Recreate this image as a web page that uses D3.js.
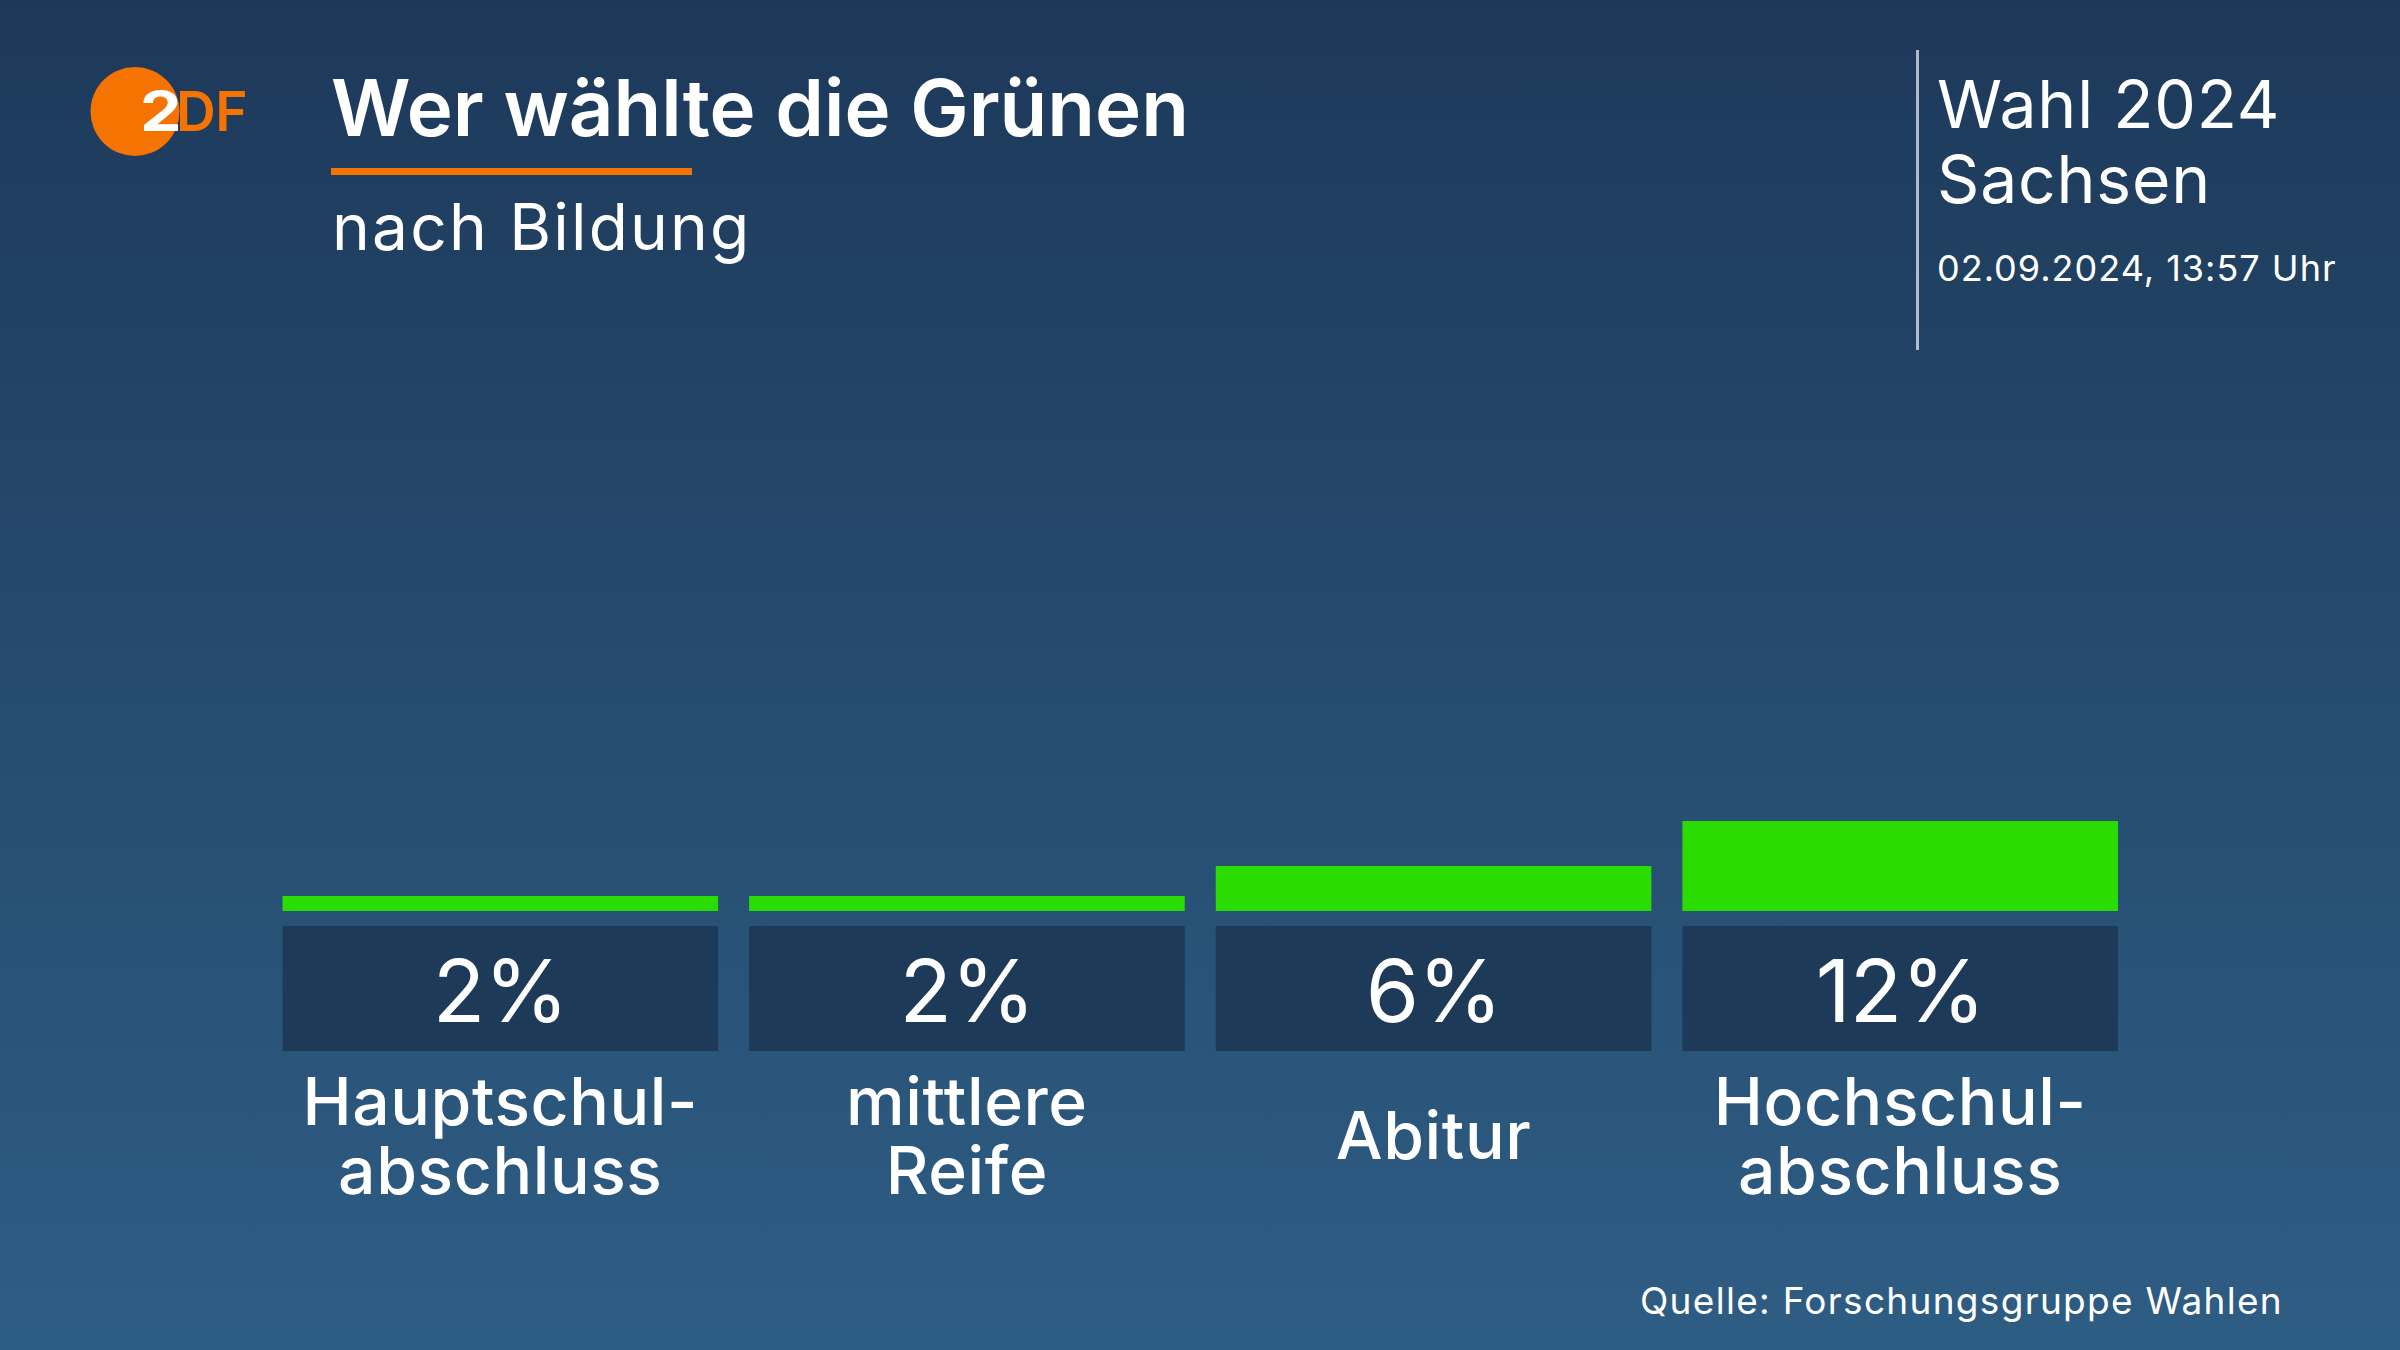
<!DOCTYPE html>
<html>
<head>
<meta charset="utf-8">
<script src="https://cdn.jsdelivr.net/npm/d3@7"></script>
<style>
	html, body { margin: 0; padding: 0; background: #1e3a5a; }
	svg { display: block; }
	text { font-family: Inter, "Noto Sans", sans-serif; fill: #fff; }
</style>
</head>
<body>
<script>
var categories = [['Hauptschul-', 'abschluss'], ['mittlere', 'Reife'], ['Abitur'], ['Hochschul-', 'abschluss']];
var values = [2, 2, 6, 12];
var title = 'Wer wählte die Grünen';
var subtitle = 'nach Bildung';
var electionLines = ['Wahl 2024', 'Sachsen'];
var stamp = '02.09.2024, 13:57 Uhr';
var source = 'Quelle: Forschungsgruppe Wahlen';

var width = 2400,
	height = 1350,
	baseline = 911,
	boxTop = 926,
	boxBottom = 1051,
	orange = '#f57300',
	green = '#2bdc00';

var svg = d3.select('body').append('svg')
	.attr('width', width)
	.attr('height', height);

var grad = svg.append('defs').append('linearGradient')
	.attr('id', 'bg')
	.attr('x1', 0).attr('y1', 0).attr('x2', 0).attr('y2', 1);
grad.append('stop').attr('offset', 0).attr('stop-color', '#1d395a');
grad.append('stop').attr('offset', 1).attr('stop-color', '#2e5d84');

svg.append('rect')
	.attr('width', width)
	.attr('height', height)
	.attr('fill', 'url(#bg)');

// logo
svg.append('circle')
	.attr('cx', 135).attr('cy', 111.5).attr('r', 44.5)
	.attr('fill', orange);
svg.append('text')
	.attr('transform', 'translate(140,131) scale(1.2,1)')
	.style('font-size', '55px')
	.style('font-weight', 700)
	.text('2');
svg.append('text')
	.attr('x', 176).attr('y', 131)
	.style('font-size', '55px')
	.style('font-weight', 600)
	.style('letter-spacing', '-0.5px')
	.style('fill', orange)
	.text('DF');

// header
svg.append('text')
	.attr('x', 331).attr('y', 136)
	.style('font-size', '78px')
	.style('font-weight', 600)
	.text(title);
svg.append('rect')
	.attr('x', 331).attr('y', 168)
	.attr('width', 361).attr('height', 7)
	.attr('fill', orange);
svg.append('text')
	.attr('x', 332).attr('y', 250)
	.style('font-size', '64px')
	.style('letter-spacing', '2.2px')
	.text(subtitle);

svg.append('rect')
	.attr('x', 1916).attr('y', 50)
	.attr('width', 3).attr('height', 300)
	.attr('fill', '#fff')
	.attr('opacity', 0.65);
svg.selectAll('.election')
		.data(electionLines)
	.enter().append('text')
		.attr('class', 'election')
		.attr('x', 1937)
		.attr('y', function(d, i) { return 128 + i * 75; })
		.style('font-size', '66px')
		.style('letter-spacing', '0.8px')
		.text(function(d) { return d; });
svg.append('text')
	.attr('x', 1937).attr('y', 281)
	.style('font-size', '36px')
	.style('letter-spacing', '1px')
	.text(stamp);

// bars
var x = d3.scaleBand()
	.domain(d3.range(values.length))
	.range([282.5, 2118])
	.paddingInner(0.0665);

var y = d3.scaleLinear()
	.domain([0, 12])
	.range([baseline, 821]);

svg.selectAll('.bar')
		.data(values)
	.enter().append('rect')
		.attr('class', 'bar')
		.attr('x', function(d, i) { return x(i); })
		.attr('y', function(d) { return y(d); })
		.attr('width', x.bandwidth())
		.attr('height', function(d) { return baseline - y(d); })
		.attr('fill', green);

svg.selectAll('.box')
		.data(values)
	.enter().append('rect')
		.attr('class', 'box')
		.attr('x', function(d, i) { return x(i); })
		.attr('y', boxTop)
		.attr('width', x.bandwidth())
		.attr('height', boxBottom - boxTop)
		.attr('fill', '#1d3a59');

svg.selectAll('.value')
		.data(values)
	.enter().append('text')
		.attr('class', 'value')
		.attr('x', function(d, i) { return x(i) + x.bandwidth() / 2; })
		.attr('y', 1022)
		.attr('text-anchor', 'middle')
		.style('font-size', '86px')
		.style('letter-spacing', '-1px')
		.text(function(d) { return d + '%'; });

var labels = svg.selectAll('.label')
		.data(categories)
	.enter().append('text')
		.attr('class', 'label')
		.attr('text-anchor', 'middle')
		.style('font-size', '66px')
		.style('font-weight', 500)
		.style('letter-spacing', '0.6px');

labels.selectAll('tspan')
		.data(function(d, i) {
			return d.map(function(line, j) {
				return { line: line, cat: i, row: j, single: d.length === 1 };
			});
		})
	.enter().append('tspan')
		.attr('x', function(d) { return x(d.cat) + x.bandwidth() / 2; })
		.attr('y', function(d) { return d.single ? 1158.5 : 1125 + d.row * 69; })
		.text(function(d) { return d.line; });

svg.append('text')
	.attr('x', 2283).attr('y', 1314)
	.attr('text-anchor', 'end')
	.style('font-size', '37px')
	.style('letter-spacing', '1.3px')
	.text(source);
</script>
</body>
</html>
